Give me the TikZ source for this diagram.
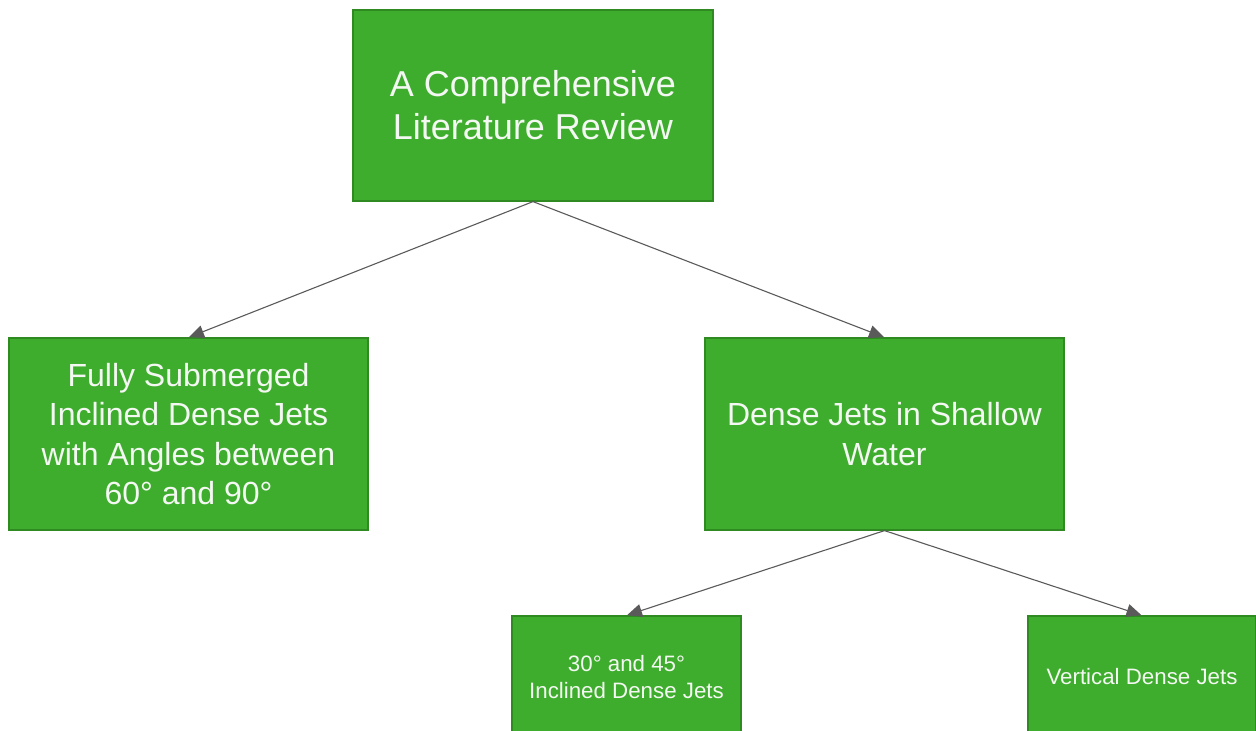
\documentclass[tikz,border=0pt]{standalone}
\usepackage{fontspec}
\setmainfont{Liberation Sans}
\usetikzlibrary{arrows.meta}
\definecolor{boxgreen}{HTML}{3EAD2D}
\definecolor{boxedge}{HTML}{2F8A22}
\definecolor{linkgray}{HTML}{5A5A5A}
\definecolor{txt}{HTML}{F4F8F2}
\begin{document}
\begin{tikzpicture}[x=1pt,y=-1pt,
  box/.style={draw=boxedge,line width=1.2pt,fill=boxgreen,text=txt,align=center,inner sep=0pt},
  big/.style={font=\fontsize{36}{43}\selectfont},
  mid/.style={font=\fontsize{32}{39.5}\selectfont},
  small/.style={font=\fontsize{22.3}{27}\selectfont},
  link/.style={draw=linkgray,line width=1.1pt,-{Triangle[length=15pt,width=13pt]},shorten >=0.5pt}]
\useasboundingbox (0,0) rectangle (1256,731);
\clip (0,0) rectangle (1256,731);
\node[box,big,minimum width=360pt,minimum height=191pt] (top) at (533,105.5) {A Comprehensive\\Literature Review};
\node[box,mid,minimum width=359pt,minimum height=192pt] (left) at (188.5,434) {Fully Submerged\\Inclined Dense Jets\\with Angles between\\60° and 90°};
\node[box,mid,minimum width=359pt,minimum height=192pt] (right) at (884.5,434) {Dense Jets in Shallow\\Water};
\node[box,small,minimum width=229pt,minimum height=122pt] (bl) at (626.5,677) {30° and 45°\\Inclined Dense Jets};
\node[box,small,minimum width=228pt,minimum height=122pt] (br) at (1142,677) {Vertical Dense Jets};
\draw[link] (top.south) -- (left.north);
\draw[link] (top.south) -- (right.north);
\draw[link] (right.south) -- (bl.north);
\draw[link] (right.south) -- (br.north);
\end{tikzpicture}
\end{document}
